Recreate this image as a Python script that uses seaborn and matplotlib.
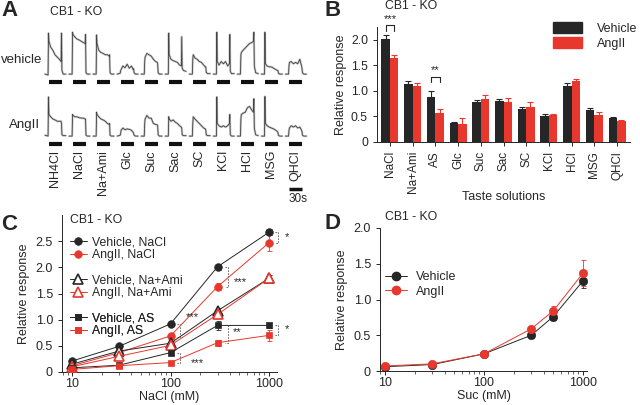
import numpy as np
import pandas as pd
import matplotlib
matplotlib.use("Agg")
import matplotlib.pyplot as plt
from matplotlib.lines import Line2D
from matplotlib.patches import Patch
import seaborn as sns

sns.set_style("ticks")
plt.rcParams['font.family'] = ['Liberation Sans', 'DejaVu Sans']
plt.rcParams['axes.linewidth'] = 0.7
plt.rcParams['xtick.major.width'] = 0.7
plt.rcParams['ytick.major.width'] = 0.7
plt.rcParams['xtick.minor.width'] = 0.5
plt.rcParams['xtick.major.size'] = 3
plt.rcParams['ytick.major.size'] = 3
plt.rcParams['xtick.minor.size'] = 1.8

BLACK = "#262626"
RED = "#e8372c"

# ---------------- Panel A data (trace amplitudes) ----------------
trace_labels = ["NH4Cl", "NaCl", "Na+Ami", "Glc", "Suc", "Sac", "SC", "KCl", "HCl", "MSG", "QHCl"]
trace_t = [-8, -1, 0, 1, 5, 10, 15, 20, 25, 29, 30, 31, 34, 40]
vehicle_traces = [
    [0.02, 0.00, 0.93, 0.75, 0.62, 0.55, 0.45, 0.40, 0.35, 0.30, 0.93, 0.10, 0.02, 0.02],
    [0.02, 0.02, 0.95, 0.90, 0.85, 0.80, 0.78, 0.75, 0.72, 0.70, 0.90, 0.05, 0.02, 0.02],
    [0.02, 0.02, 0.89, 0.70, 0.55, 0.50, 0.48, 0.45, 0.45, 0.42, 0.45, 0.05, 0.02, 0.02],
    [0.02, 0.04, 0.10, 0.12, 0.20, 0.16, 0.24, 0.15, 0.20, 0.12, 0.14, 0.05, 0.02, 0.02],
    [0.02, 0.02, 0.30, 0.40, 0.48, 0.45, 0.42, 0.35, 0.30, 0.28, 0.25, 0.05, 0.02, 0.02],
    [0.02, 0.02, 0.93, 0.45, 0.35, 0.32, 0.30, 0.28, 0.22, 0.20, 0.85, 0.15, 0.10, 0.08],
    [0.02, 0.02, 0.35, 0.45, 0.38, 0.35, 0.30, 0.28, 0.22, 0.18, 0.18, 0.06, 0.03, 0.03],
    [0.02, 0.02, 0.95, 0.30, 0.22, 0.30, 0.25, 0.30, 0.20, 0.25, 0.90, 0.08, 0.03, 0.03],
    [0.02, 0.02, 0.45, 0.50, 0.55, 0.60, 0.65, 0.70, 0.72, 0.75, 0.95, 0.20, 0.05, 0.03],
    [0.02, 0.02, 0.95, 0.25, 0.20, 0.18, 0.18, 0.15, 0.12, 0.10, 0.10, 0.04, 0.02, 0.02],
    [0.02, 0.02, 0.20, 0.28, 0.30, 0.25, 0.28, 0.25, 0.35, 0.20, 0.15, 0.05, 0.02, 0.02],
]
angii_traces = [
    [0.04, 0.02, 0.89, 0.50, 0.45, 0.40, 0.38, 0.35, 0.35, 0.35, 0.30, 0.05, 0.03, 0.03],
    [0.02, 0.02, 0.50, 0.48, 0.45, 0.45, 0.43, 0.42, 0.42, 0.40, 0.40, 0.04, 0.02, 0.02],
    [0.02, 0.02, 0.55, 0.50, 0.45, 0.40, 0.38, 0.35, 0.30, 0.28, 0.30, 0.04, 0.02, 0.02],
    [0.02, 0.04, 0.08, 0.15, 0.20, 0.16, 0.18, 0.17, 0.15, 0.10, 0.08, 0.04, 0.02, 0.02],
    [0.02, 0.02, 0.30, 0.40, 0.48, 0.42, 0.42, 0.30, 0.28, 0.27, 0.25, 0.05, 0.02, 0.02],
    [0.02, 0.02, 0.45, 0.40, 0.35, 0.38, 0.33, 0.30, 0.25, 0.22, 0.20, 0.05, 0.03, 0.03],
    [0.02, 0.02, 0.30, 0.45, 0.40, 0.35, 0.30, 0.25, 0.20, 0.18, 0.15, 0.05, 0.03, 0.03],
    [0.02, 0.02, 0.89, 0.30, 0.25, 0.22, 0.25, 0.22, 0.25, 0.30, 0.50, 0.05, 0.02, 0.02],
    [0.02, 0.02, 0.40, 0.50, 0.53, 0.55, 0.65, 0.68, 0.60, 0.55, 0.85, 0.20, 0.05, 0.03],
    [0.02, 0.02, 0.90, 0.30, 0.25, 0.22, 0.20, 0.18, 0.15, 0.12, 0.10, 0.04, 0.02, 0.02],
    [0.02, 0.02, 0.15, 0.20, 0.25, 0.22, 0.25, 0.20, 0.22, 0.15, 0.12, 0.04, 0.02, 0.02],
]

# ---------------- Panel B data ----------------
tastes = ["NaCl", "Na+Ami", "AS", "Glc", "Suc", "Sac", "SC", "KCl", "HCl", "MSG", "QHCl"]
veh_resp = [2.02, 1.14, 0.89, 0.37, 0.78, 0.80, 0.64, 0.51, 1.10, 0.62, 0.47]
veh_err = [0.07, 0.05, 0.10, 0.03, 0.05, 0.05, 0.05, 0.03, 0.06, 0.04, 0.02]
ang_resp = [1.64, 1.10, 0.56, 0.36, 0.84, 0.79, 0.69, 0.52, 1.20, 0.52, 0.41]
ang_err = [0.07, 0.05, 0.09, 0.10, 0.08, 0.07, 0.09, 0.02, 0.03, 0.06, 0.03]

# ---------------- Panel C data ----------------
nacl_conc = [10, 30, 100, 300, 1000]
veh_nacl = [0.21, 0.49, 0.92, 2.01, 2.67]
ang_nacl = [0.12, 0.37, 0.69, 1.63, 2.47]
veh_ami = [0.15, 0.40, 0.55, 1.17, 1.79]
ang_ami = [0.10, 0.30, 0.51, 1.10, 1.79]
veh_as = [0.08, 0.13, 0.37, 0.89, 0.89]
ang_as = [0.05, 0.12, 0.18, 0.56, 0.70]
veh_nacl_err = [0.03, 0.04, 0.05, 0.06, 0.06]
ang_nacl_err = [0.03, 0.04, 0.06, 0.07, 0.15]
veh_ami_err = [0.03, 0.04, 0.05, 0.06, 0.06]
ang_ami_err = [0.03, 0.04, 0.05, 0.06, 0.06]
veh_as_err = [0.02, 0.03, 0.04, 0.08, 0.05]
ang_as_err = [0.02, 0.03, 0.03, 0.06, 0.10]

# ---------------- Panel D data ----------------
suc_conc = [10, 30, 100, 300, 500, 1000]
veh_suc = [0.06, 0.09, 0.24, 0.50, 0.76, 1.26]
ang_suc = [0.07, 0.10, 0.24, 0.59, 0.84, 1.37]
veh_suc_err = [0.01, 0.02, 0.02, 0.04, 0.05, 0.10]
ang_suc_err = [0.01, 0.02, 0.02, 0.04, 0.07, 0.18]

W, H = 640, 405
fig = plt.figure(figsize=(6.4, 4.05), dpi=100)


def fx(px):
    return px / W


def fy(py):
    return 1 - py / H


def rect(l, t, r, b):
    return [fx(l), fy(b), (r - l) / W, (b - t) / H]


# ================= Panel A =================
axA = fig.add_axes([0, 0.5, 0.5, 0.5])
axA.set_xlim(0, 320)
axA.set_ylim(202.5, 0)
axA.axis("off")
slot0, slot_dx = 55.0, 24.05       # px
px_per_s = 13.0 / 30.0
amp_px = 45.0
rows = [(75.0, 81.5, vehicle_traces), (137.0, 143.5, angii_traces)]
t_arr = np.array(trace_t, dtype=float)
for base, bar_y, traces in rows:
    for i, tr in enumerate(traces):
        xc = slot0 + i * slot_dx
        xs = xc - 6.5 + t_arr * px_per_s
        ys = base - np.array(tr) * amp_px
        axA.plot(xs, ys, color="#c8c8c8", lw=1.6, solid_capstyle="round")
        axA.plot(xs, ys, color="#444444", lw=0.6)
        axA.plot([xc - 6.5, xc + 6.5], [bar_y, bar_y], color="#111111", lw=3.0,
                 solid_capstyle="butt")
for i, lab in enumerate(trace_labels):
    axA.text(slot0 + i * slot_dx, 150, lab, rotation=90, ha="center", va="top",
             fontsize=9)
axA.text(42, 60, "vehicle", ha="right", va="center", fontsize=9.5)
axA.text(40, 125, "AngII", ha="right", va="center", fontsize=9.5)
axA.text(50, 12, "CB1 - KO", ha="left", va="center", fontsize=8.8)
sx = slot0 + 10 * slot_dx
axA.plot([sx - 6.5, sx + 6.5], [188.5, 188.5], color="#111111", lw=2.5,
         solid_capstyle="butt")
axA.text(sx - 6.5, 193, "30s", ha="left", va="top", fontsize=8.5)

# ================= Panel B =================
axB = fig.add_axes(rect(377, 27, 630, 142))
dfB = pd.DataFrame({
    "taste": tastes * 2,
    "group": ["Vehicle"] * len(tastes) + ["AngII"] * len(tastes),
    "resp": veh_resp + ang_resp,
})
sns.barplot(data=dfB, x="taste", y="resp", hue="group", palette=[BLACK, RED],
            saturation=1, width=0.75, errorbar=None, ax=axB, edgecolor="none",
            legend=False)
for cont, errs, col in zip(axB.containers, [veh_err, ang_err], [BLACK, RED]):
    for bar, e in zip(cont, errs):
        xb = bar.get_x() + bar.get_width() / 2
        hb = bar.get_height()
        axB.errorbar(xb, hb, yerr=[[0], [e]], color=col, capsize=2.2, lw=0.8,
                     capthick=0.8)
axB.set_xlim(-0.57, len(tastes) - 0.43)
axB.set_ylim(0, 2.25)
axB.set_yticks([0, 0.5, 1.0, 1.5, 2.0])
axB.set_yticklabels(["0", "0.5", "1.0", "1.5", "2.0"], fontsize=8.8)
axB.set_xticks(range(len(tastes)))
axB.set_xticklabels(tastes, rotation=90, fontsize=8.5)
axB.set_xlabel("Taste solutions", fontsize=9)
axB.xaxis.set_label_coords(0.5, -0.425)
axB.set_ylabel("Relative response", fontsize=9, labelpad=3)
sns.despine(ax=axB)
# significance brackets
vb = axB.containers[0]
ab = axB.containers[1]
for idx, top, leg, stars in [(0, 2.28, 2.18, "***"), (2, 1.27, 1.18, "**")]:
    x1 = vb[idx].get_x() + vb[idx].get_width() / 2
    x2 = ab[idx].get_x() + ab[idx].get_width() / 2
    axB.plot([x1, x1, x2, x2], [leg, top, top, leg], color=BLACK, lw=0.8,
             clip_on=False)
    axB.text((x1 + x2) / 2, top + 0.03, stars, ha="center", va="bottom",
             fontsize=8, clip_on=False)
axB.legend(handles=[Patch(color=BLACK, label="Vehicle"), Patch(color=RED, label="AngII")],
           loc="upper left", bbox_to_anchor=(fx(553), fy(22)),
           bbox_transform=fig.transFigure, frameon=False, fontsize=9,
           handlelength=2.3, handleheight=1.0, handletextpad=1.2,
           labelspacing=0.15, borderpad=0, borderaxespad=0)

# ================= Panel C =================
axC = fig.add_axes(rect(62, 215, 277, 372))
seriesC = [
    ("Vehicle, NaCl", veh_nacl, veh_nacl_err, BLACK, "o", BLACK, 5.5),
    ("AngII, NaCl", ang_nacl, ang_nacl_err, RED, "o", RED, 5.5),
    ("Vehicle, Na+Ami", veh_ami, veh_ami_err, BLACK, "^", "white", 6.5),
    ("AngII, Na+Ami", ang_ami, ang_ami_err, RED, "^", "white", 6.5),
    ("Vehicle, AS", veh_as, veh_as_err, BLACK, "s", BLACK, 5.0),
    ("AngII, AS", ang_as, ang_as_err, RED, "s", RED, 5.0),
]
handlesC = []
for lab, vals, errs, col, mk, fc, ms in seriesC:
    axC.errorbar(nacl_conc, vals, yerr=errs, fmt="none", ecolor=col, capsize=1.8,
                 lw=0.6, capthick=0.6, zorder=2)
    sns.lineplot(x=nacl_conc, y=vals, ax=axC, color=col, lw=0.7, marker=mk,
                 markersize=ms, markerfacecolor=fc, markeredgecolor=col,
                 markeredgewidth=1.2 if fc == "white" else 0.5, zorder=3)
    handlesC.append(Line2D([], [], color=col, lw=0.7, marker=mk, markersize=ms,
                           markerfacecolor=fc, markeredgecolor=col,
                           markeredgewidth=1.2 if fc == "white" else 0.5, label=lab))
axC.set_xscale("log")
axC.set_xlim(7.9, 1206)
axC.set_ylim(0, 3.0)
axC.set_yticks([0, 0.5, 1.0, 1.5, 2.0, 2.5])
axC.set_yticklabels(["0", "0.5", "1.0", "1.5", "2.0", "2.5"], fontsize=9)
axC.set_xticks([10, 100, 1000])
axC.set_xticklabels(["10", "100", "1000"], fontsize=9)
axC.tick_params(axis="x", which="major", pad=1.5)
axC.set_xlabel("NaCl (mM)", fontsize=9)
axC.xaxis.set_label_coords(0.5, -0.118)
axC.set_ylabel("Relative response", fontsize=9, labelpad=4)
sns.despine(ax=axC)
for k, ytop in enumerate([236.5, 274.5, 312.5]):
    lg = axC.legend(handles=handlesC[2 * k:2 * k + 2], loc="upper left",
                    bbox_to_anchor=(fx(70), fy(ytop)), bbox_transform=fig.transFigure,
                    frameon=False, fontsize=8.8, handlelength=1.35, handletextpad=0.45,
                    labelspacing=0.05, borderpad=0, borderaxespad=0)
    axC.add_artist(lg)
# dashed significance brackets
for xb, y1, y2, xs_, ys_, st in [
    (1234, 2.67, 2.47, 1523, 2.57, "*"),
    (384, 2.01, 1.63, 508, 1.72, "***"),
    (125, 0.92, 0.67, 165, 1.05, "***"),
    (384, 0.89, 0.56, 473, 0.76, "**"),
    (125, 0.37, 0.18, 186, 0.18, "***"),
    (1234, 0.89, 0.70, 1523, 0.82, "*"),
]:
    xin = xb * 0.93
    axC.plot([xin, xb, xb, xin], [y1, y1, y2, y2], color="#555555", lw=0.6,
             ls=(0, (2, 1.5)), clip_on=False)
    axC.text(xs_, ys_, st, ha="center", va="center", fontsize=8, clip_on=False)

# ================= Panel D =================
axD = fig.add_axes(rect(380, 228, 587, 371))
handlesD = []
for lab, vals, errs, col in [("Vehicle", veh_suc, veh_suc_err, BLACK),
                             ("AngII", ang_suc, ang_suc_err, RED)]:
    axD.errorbar(suc_conc, vals, yerr=errs, fmt="none", ecolor=col, capsize=1.8,
                 lw=0.6, capthick=0.6, zorder=2)
    sns.lineplot(x=suc_conc, y=vals, ax=axD, color=col, lw=0.7, marker="o",
                 markersize=6.0, markeredgecolor=col, markeredgewidth=0.5, zorder=3)
    handlesD.append(Line2D([], [], color=col, lw=0.7, marker="o", markersize=6.0,
                           markeredgecolor=col, label=lab))
axD.set_xscale("log")
axD.set_xlim(8.9, 1097)
axD.set_ylim(0, 2.0)
axD.set_yticks([0, 0.5, 1.0, 1.5, 2.0])
axD.set_yticklabels(["0", "0.5", "1.0", "1.5", "2.0"], fontsize=9)
axD.set_xticks([10, 100, 1000])
axD.set_xticklabels(["10", "100", "1000"], fontsize=9)
axD.tick_params(axis="x", which="major", pad=1.5)
axD.set_xlabel("Suc (mM)", fontsize=9)
axD.xaxis.set_label_coords(0.5, -0.13)
axD.set_ylabel("Relative response", fontsize=9, labelpad=4)
sns.despine(ax=axD)
axD.legend(handles=handlesD, loc="upper left", bbox_to_anchor=(fx(385), fy(271)),
           bbox_transform=fig.transFigure, frameon=False, fontsize=9,
           handlelength=1.75, handletextpad=0.7, labelspacing=0.2,
           borderpad=0, borderaxespad=0)

# ================= Titles & panel letters =================
fig.text(fx(385), fy(6), "CB1 - KO", ha="left", va="center", fontsize=8.8)
fig.text(fx(70), fy(220), "CB1 - KO", ha="left", va="center", fontsize=8.8)
fig.text(fx(385), fy(217), "CB1 - KO", ha="left", va="center", fontsize=8.8)
for letter, lx, ly in [("A", 1, 0), ("B", 325, 0), ("C", 1, 214), ("D", 325, 213)]:
    fig.text(fx(lx), fy(ly), letter, ha="left", va="top", fontsize=16,
             fontweight="bold")

fig.savefig("out.png", dpi=100)
